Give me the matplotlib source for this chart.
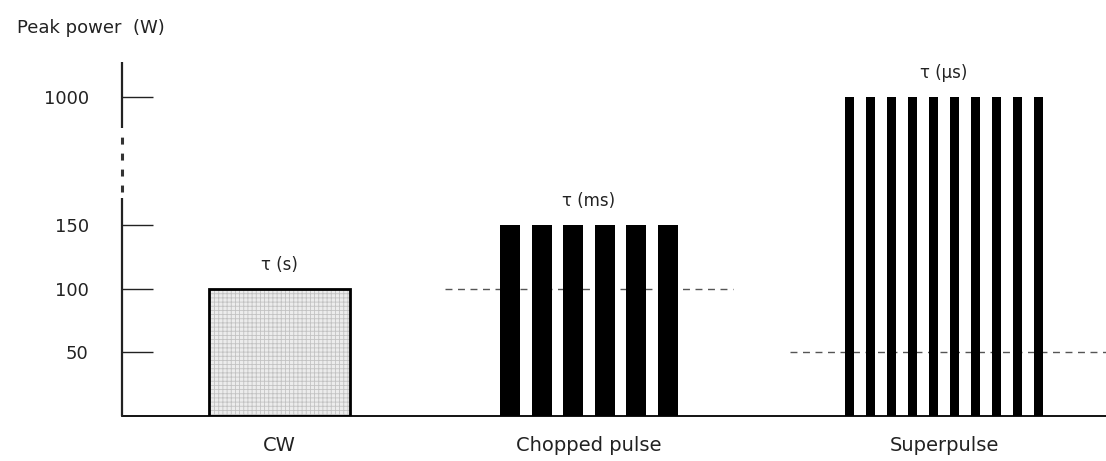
import numpy as np
import matplotlib
matplotlib.use('Agg')
import matplotlib.pyplot as plt

plt.rcParams['font.family'] = ['DejaVu Sans']
plt.rcParams['lines.scale_dashes'] = False
plt.rcParams['hatch.linewidth'] = 0.6

# ---- data ----
categories = ['CW', 'Chopped pulse', 'Superpulse']
peak_power = [100, 150, 1000]
average_power = [None, 100, 50]
pulse_counts = [1, 6, 10]
tau_labels = ['τ (s)', 'τ (ms)', 'τ (μs)']
ytick_values = [50, 100, 150, 1000]
ytick_labels = ['50', '100', '150', '1000']
y_title = 'Peak power  (W)'

# ---- layout ----
group_centers = [1.575, 4.67, 8.22]
bar_widths = [1.41, 0.20, 0.09]
bar_pitch = [0.0, 0.316, 0.21]
avg_extent = [None, (3.23, 6.11), (6.68, 9.84)]

BREAK_LO = 150
K = 0.1184


def fwd(v):
    v = np.asarray(v, float)
    return np.where(v <= BREAK_LO, v, BREAK_LO + (v - BREAK_LO) * K)


def inv(u):
    u = np.asarray(u, float)
    return np.where(u <= BREAK_LO, u, BREAK_LO + (u - BREAK_LO) / K)


fig = plt.figure(figsize=(11.06, 4.61), dpi=100)
fig.patch.set_facecolor('white')
ax = fig.add_axes([122 / 1106, 45 / 461, (1106 - 122) / 1106, (416 - 62) / 461])
ax.set_yscale('function', functions=(fwd, inv))
ax.set_xlim(0, 9.84)
ax.set_ylim(0, 1232)

for s in ['top', 'right', 'left']:
    ax.spines[s].set_visible(False)
ax.spines['bottom'].set_linewidth(1.3)
ax.spines['bottom'].set_color('black')

ax.set_xticks([])
ax.set_yticks(ytick_values)
ax.set_yticklabels(ytick_labels)
ax.yaxis.set_minor_locator(matplotlib.ticker.NullLocator())
ax.tick_params(axis='y', direction='in', length=22, width=1.0, pad=24,
               labelsize=13, colors='#222222')

# broken y axis line
ax.plot([0, 0], [0, 329], color='#222222', lw=1.6, clip_on=False,
        solid_capstyle='butt', zorder=5)
ax.plot([0, 0], [370, 734], color='#333333', lw=2.2, clip_on=False,
        linestyle=(0, (5.0, 6.5)), dash_capstyle='butt', zorder=5)
ax.plot([0, 0], [794, 1232], color='#222222', lw=1.6, clip_on=False,
        solid_capstyle='butt', zorder=5)

# average power dashed lines
for i, avg in enumerate(average_power):
    if avg is None:
        continue
    x0, x1 = avg_extent[i]
    ax.hlines(avg, x0, x1, colors='#555555', linestyles=[(0, (5, 4))],
              linewidth=1.0, zorder=1, clip_on=False)

# bars
for i, cat in enumerate(categories):
    n = pulse_counts[i]
    xs = group_centers[i] + (np.arange(n) - (n - 1) / 2) * bar_pitch[i]
    heights = np.full(n, peak_power[i])
    if n == 1:
        ax.bar(xs, heights, width=bar_widths[i], facecolor='#ececec',
               edgecolor='#c2c2c2', hatch='++++', linewidth=0, zorder=2)
        ax.bar(xs, heights, width=bar_widths[i], fill=False,
               edgecolor='black', linewidth=2.0, zorder=3)
    else:
        ax.bar(xs, heights, width=bar_widths[i], color='black',
               linewidth=0, zorder=2)
    ax.annotate(tau_labels[i], (group_centers[i], peak_power[i]),
                xytext=(0, 17), textcoords='offset points',
                ha='center', va='center', fontsize=12, color='#222222')
    ax.annotate(cat, (group_centers[i], 0), xytext=(0, -21),
                textcoords='offset points', ha='center', va='center',
                fontsize=14, color='#222222', annotation_clip=False)

fig.text(17 / 1106, 1 - 28 / 461, y_title, ha='left', va='center',
         fontsize=13, color='#222222')

fig.savefig('out.png', dpi=100, facecolor='white')
